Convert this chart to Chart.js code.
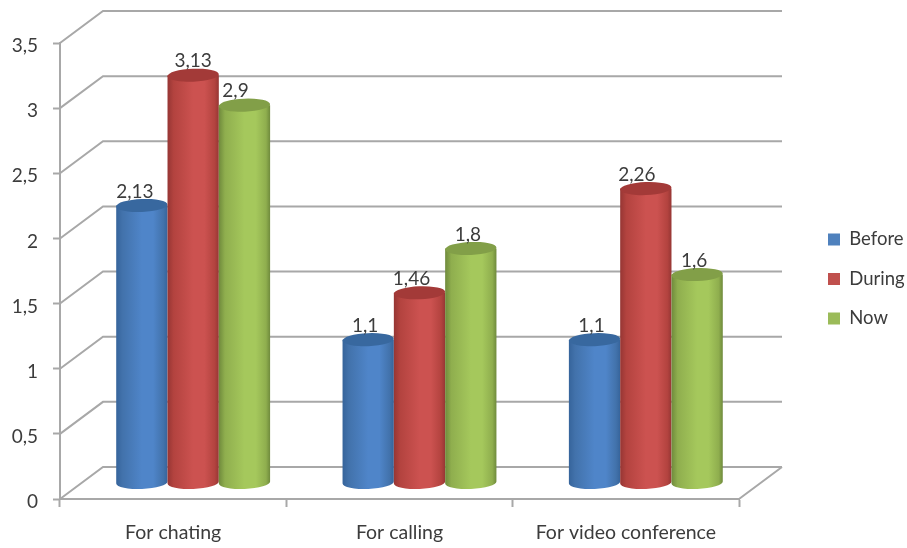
<!DOCTYPE html>
<html lang="en">
<head>
  <meta charset="UTF-8"/>
  <title>Before, During, Now</title>
  <script src="https://cdn.jsdelivr.net/npm/chart.js"></script>
  <style>
    html, body { margin: 0; background: #fff; }
    #wrap { position: relative; width: 907px; height: 548px; }
  </style>
</head>
<body>
  <div id="wrap"><canvas id="chart"></canvas></div>

  <script>
    const categories = ['For chating', 'For calling', 'For video conference'];
    const before = [2.13, 1.1, 1.1];
    const during = [3.13, 1.46, 2.26];
    const now = [2.9, 1.8, 1.6];

    const GRID = '#a8a8a8';
    const TEXT = '#3c3c3c';
    const FONT = 'Lato, sans-serif';

    // how far the back wall sits behind the front plane
    const DEPTH_X = 43, DEPTH_Y = -32;
    // cylinders stand in the middle of the floor
    const BAR_X = 20, BAR_Y = -16;
    const RY = 6.5, TILT = -0.04;

    // value labels are nudged left where they would hit a taller neighbour
    const labelShift = [[-7, -3, -3], [0, -8, -9], [-9, -3, -3]];

    const shades = [
      { edge: '#36649b', mid: '#4272ab', light: '#4f85c9', top: '#38689f' },
      { edge: '#963634', mid: '#b3433f', light: '#cc5250', top: '#a33a38' },
      { edge: '#6f8a3c', mid: '#8fae4e', light: '#a5c85c', top: '#829f48' }
    ];

    const comma = v => String(v).replace('.', ',');

    function drawCylinder(ctx, bar, s) {
      const cx = bar.x + BAR_X, rx = bar.width / 2;
      const topY = bar.y + BAR_Y, baseY = bar.base + BAR_Y;
      const g = ctx.createLinearGradient(cx - rx, 0, cx + rx, 0);
      g.addColorStop(0, s.edge);
      g.addColorStop(0.12, s.mid);
      g.addColorStop(0.5, s.light);
      g.addColorStop(0.72, s.light);
      g.addColorStop(0.92, s.mid);
      g.addColorStop(1, s.edge);

      ctx.beginPath();
      ctx.moveTo(cx - rx, topY);
      ctx.lineTo(cx - rx, baseY);
      ctx.ellipse(cx, baseY, rx, RY, TILT, Math.PI, 0, true);
      ctx.lineTo(cx + rx, topY);
      ctx.closePath();
      ctx.fillStyle = g;
      ctx.fill();

      ctx.beginPath();
      ctx.ellipse(cx, topY, rx, RY, TILT, 0, Math.PI * 2);
      ctx.fillStyle = s.top;
      ctx.fill();
    }

    const cylinders = {
      id: 'cylinders',
      afterLayout(chart) {
        // legend sits in the right margin, outside the plot
        const l = chart.legend;
        l.left = 807;
        l.right = 907;
        l.top = 206;
        l.bottom = 352;
      },
      beforeDatasetsDraw(chart) {
        const { ctx, chartArea: a, scales: { y } } = chart;
        ctx.save();
        ctx.strokeStyle = GRID;
        ctx.lineWidth = 2;
        ctx.beginPath();
        y.ticks.forEach(t => {
          const py = y.getPixelForValue(t.value);
          ctx.moveTo(a.left, py);
          ctx.lineTo(a.left + DEPTH_X, py + DEPTH_Y);
          ctx.lineTo(a.right + DEPTH_X, py + DEPTH_Y);
        });
        // right edge of the floor
        ctx.moveTo(a.right + DEPTH_X, a.bottom + DEPTH_Y);
        ctx.lineTo(a.right, a.bottom);
        ctx.stroke();

        chart.data.datasets.forEach((ds, i) => {
          chart.getDatasetMeta(i).data.forEach(bar => drawCylinder(ctx, bar, shades[i]));
        });
        ctx.restore();
      },
      // the flat bars are replaced by the cylinders above
      beforeDatasetDraw() { return false; },
      afterDatasetsDraw(chart) {
        const { ctx } = chart;
        ctx.save();
        ctx.fillStyle = TEXT;
        ctx.font = '19px ' + FONT;
        ctx.textAlign = 'center';
        ctx.textBaseline = 'middle';
        chart.data.datasets.forEach((ds, i) => {
          chart.getDatasetMeta(i).data.forEach((bar, j) => {
            ctx.fillText(comma(ds.data[j]), bar.x + BAR_X + labelShift[i][j], bar.y + BAR_Y - 14);
          });
        });
        ctx.restore();
      }
    };

    new Chart(document.getElementById('chart'), {
      type: 'bar',
      data: {
        labels: categories,
        datasets: [
          { label: 'Before', data: before, backgroundColor: '#4f81bd' },
          { label: 'During', data: during, backgroundColor: '#c0504d' },
          { label: 'Now', data: now, backgroundColor: '#9bbb59' }
        ]
      },
      options: {
        responsive: true,
        maintainAspectRatio: false,
        animation: false,
        categoryPercentage: 0.68,
        barPercentage: 1,
        layout: { padding: { top: 43, right: 168, left: 0, bottom: 0 } },
        plugins: {
          tooltip: { enabled: false },
          legend: {
            position: 'chartArea',
            labels: {
              boxWidth: 12,
              boxHeight: 12,
              padding: 21,
              color: TEXT,
              font: { family: FONT, size: 18.5 }
            }
          }
        },
        scales: {
          x: {
            afterFit(s) { s.height = 49; },
            border: { color: GRID, width: 2 },
            grid: { drawOnChartArea: false, drawTicks: true, tickLength: 8, tickColor: GRID, tickWidth: 2 },
            ticks: { color: TEXT, padding: 14, font: { family: FONT, size: 19.5 } }
          },
          y: {
            min: 0,
            max: 3.5,
            afterFit(s) { s.width = 60; },
            border: { color: GRID, width: 2 },
            grid: { drawOnChartArea: false, drawTicks: true, tickLength: 7, tickColor: GRID, tickWidth: 2 },
            ticks: {
              stepSize: 0.5,
              color: TEXT,
              padding: 15,
              labelOffset: 3,
              font: { family: FONT, size: 19 },
              callback: v => comma(v)
            }
          }
        }
      },
      plugins: [cylinders]
    });
  </script>
</body>
</html>
